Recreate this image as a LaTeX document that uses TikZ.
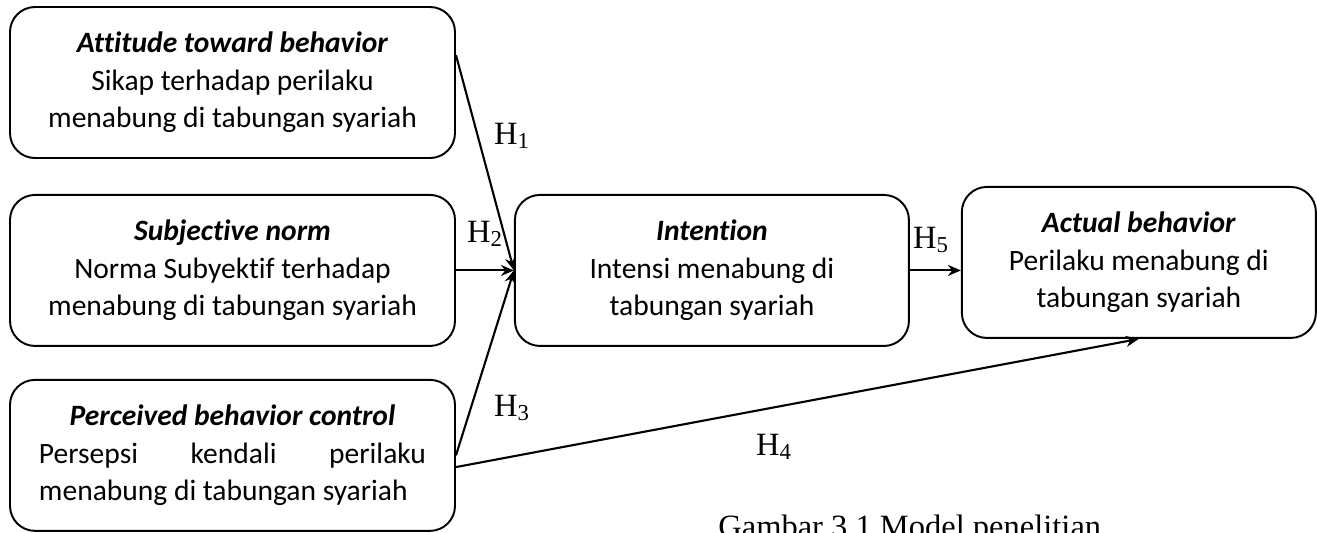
\documentclass[tikz,border=0pt]{standalone}
\usepackage{fontspec}
\setmainfont{Liberation Serif}
\newfontfamily\calibri[Ligatures=NoCommon]{Carlito}
\usetikzlibrary{arrows.meta, positioning, calc}
\definecolor{inkline}{RGB}{0, 0, 0}

\begin{document}
\begin{tikzpicture}[
            box/.style={draw=inkline, line width=1.1pt, rounded corners=0.5cm, minimum height=3.02cm, align=center, font=\calibri\fontsize{16.8}{21.4}\selectfont},
            arrow/.style={->, >={Stealth[length=2.6mm, width=2.2mm]}, line width=1.2pt, inkline},
            hlabel/.style={font=\fontsize{18.5}{20}\selectfont, inner sep=0pt}
        ]
            \useasboundingbox (0,0) rectangle (26.34,-10.64);
            \node[box, minimum width=8.9cm] (attitude) at (4.65,-1.65) {\textbf{\textit{Attitude toward behavior}}\\Sikap terhadap perilaku\\menabung di tabungan syariah};
            \node[box, minimum width=8.9cm, below=0.7cm of attitude] (subjnorm) {\textbf{\textit{Subjective norm}}\\Norma Subyektif terhadap\\menabung di tabungan syariah};
            \node[box, minimum width=8.9cm, below=0.64cm of subjnorm] (control) {\textbf{\textit{Perceived behavior control}}\\\makebox[7.74cm][s]{Persepsi\hfill kendali\hfill perilaku}\\\makebox[7.74cm][l]{menabung di tabungan syariah}};
            \node[box, minimum width=7.88cm, right=1.16cm of subjnorm] (intention) {\textbf{\textit{Intention}}\\Intensi menabung di\\tabungan syariah};
            \node[box, minimum width=7.08cm, right=1.02cm of intention, yshift=0.16cm] (actual) {\textbf{\textit{Actual behavior}}\\Perilaku menabung di\\tabungan syariah};
            
            \draw[arrow] (attitude.7) -- (intention.west);
            \draw[arrow] (subjnorm) -- (intention);
            \draw[arrow] (control.east) -- (intention.west);
            \draw[arrow] (control.-3) -- (actual.south);
            \draw[arrow] (intention.east) -- (intention.east -| actual.west);
            
            \node[hlabel] (h1) at (10.24,-2.72) {H\textsubscript{1}};
            \node[hlabel] (h2) at (9.7,-4.68) {H\textsubscript{2}};
            \node[hlabel] (h3) at (10.24,-8.16) {H\textsubscript{3}};
            \node[hlabel] (h4) at (15.48,-8.94) {H\textsubscript{4}};
            \node[hlabel] (h5) at (18.62,-4.8) {H\textsubscript{5}};
            
            \node[anchor=base west, inner sep=0pt, font=\fontsize{18.5}{20}\selectfont] (caption) at (14.36,-10.75) {Gambar 3.1 Model penelitian};
        \end{tikzpicture}
\end{document}
